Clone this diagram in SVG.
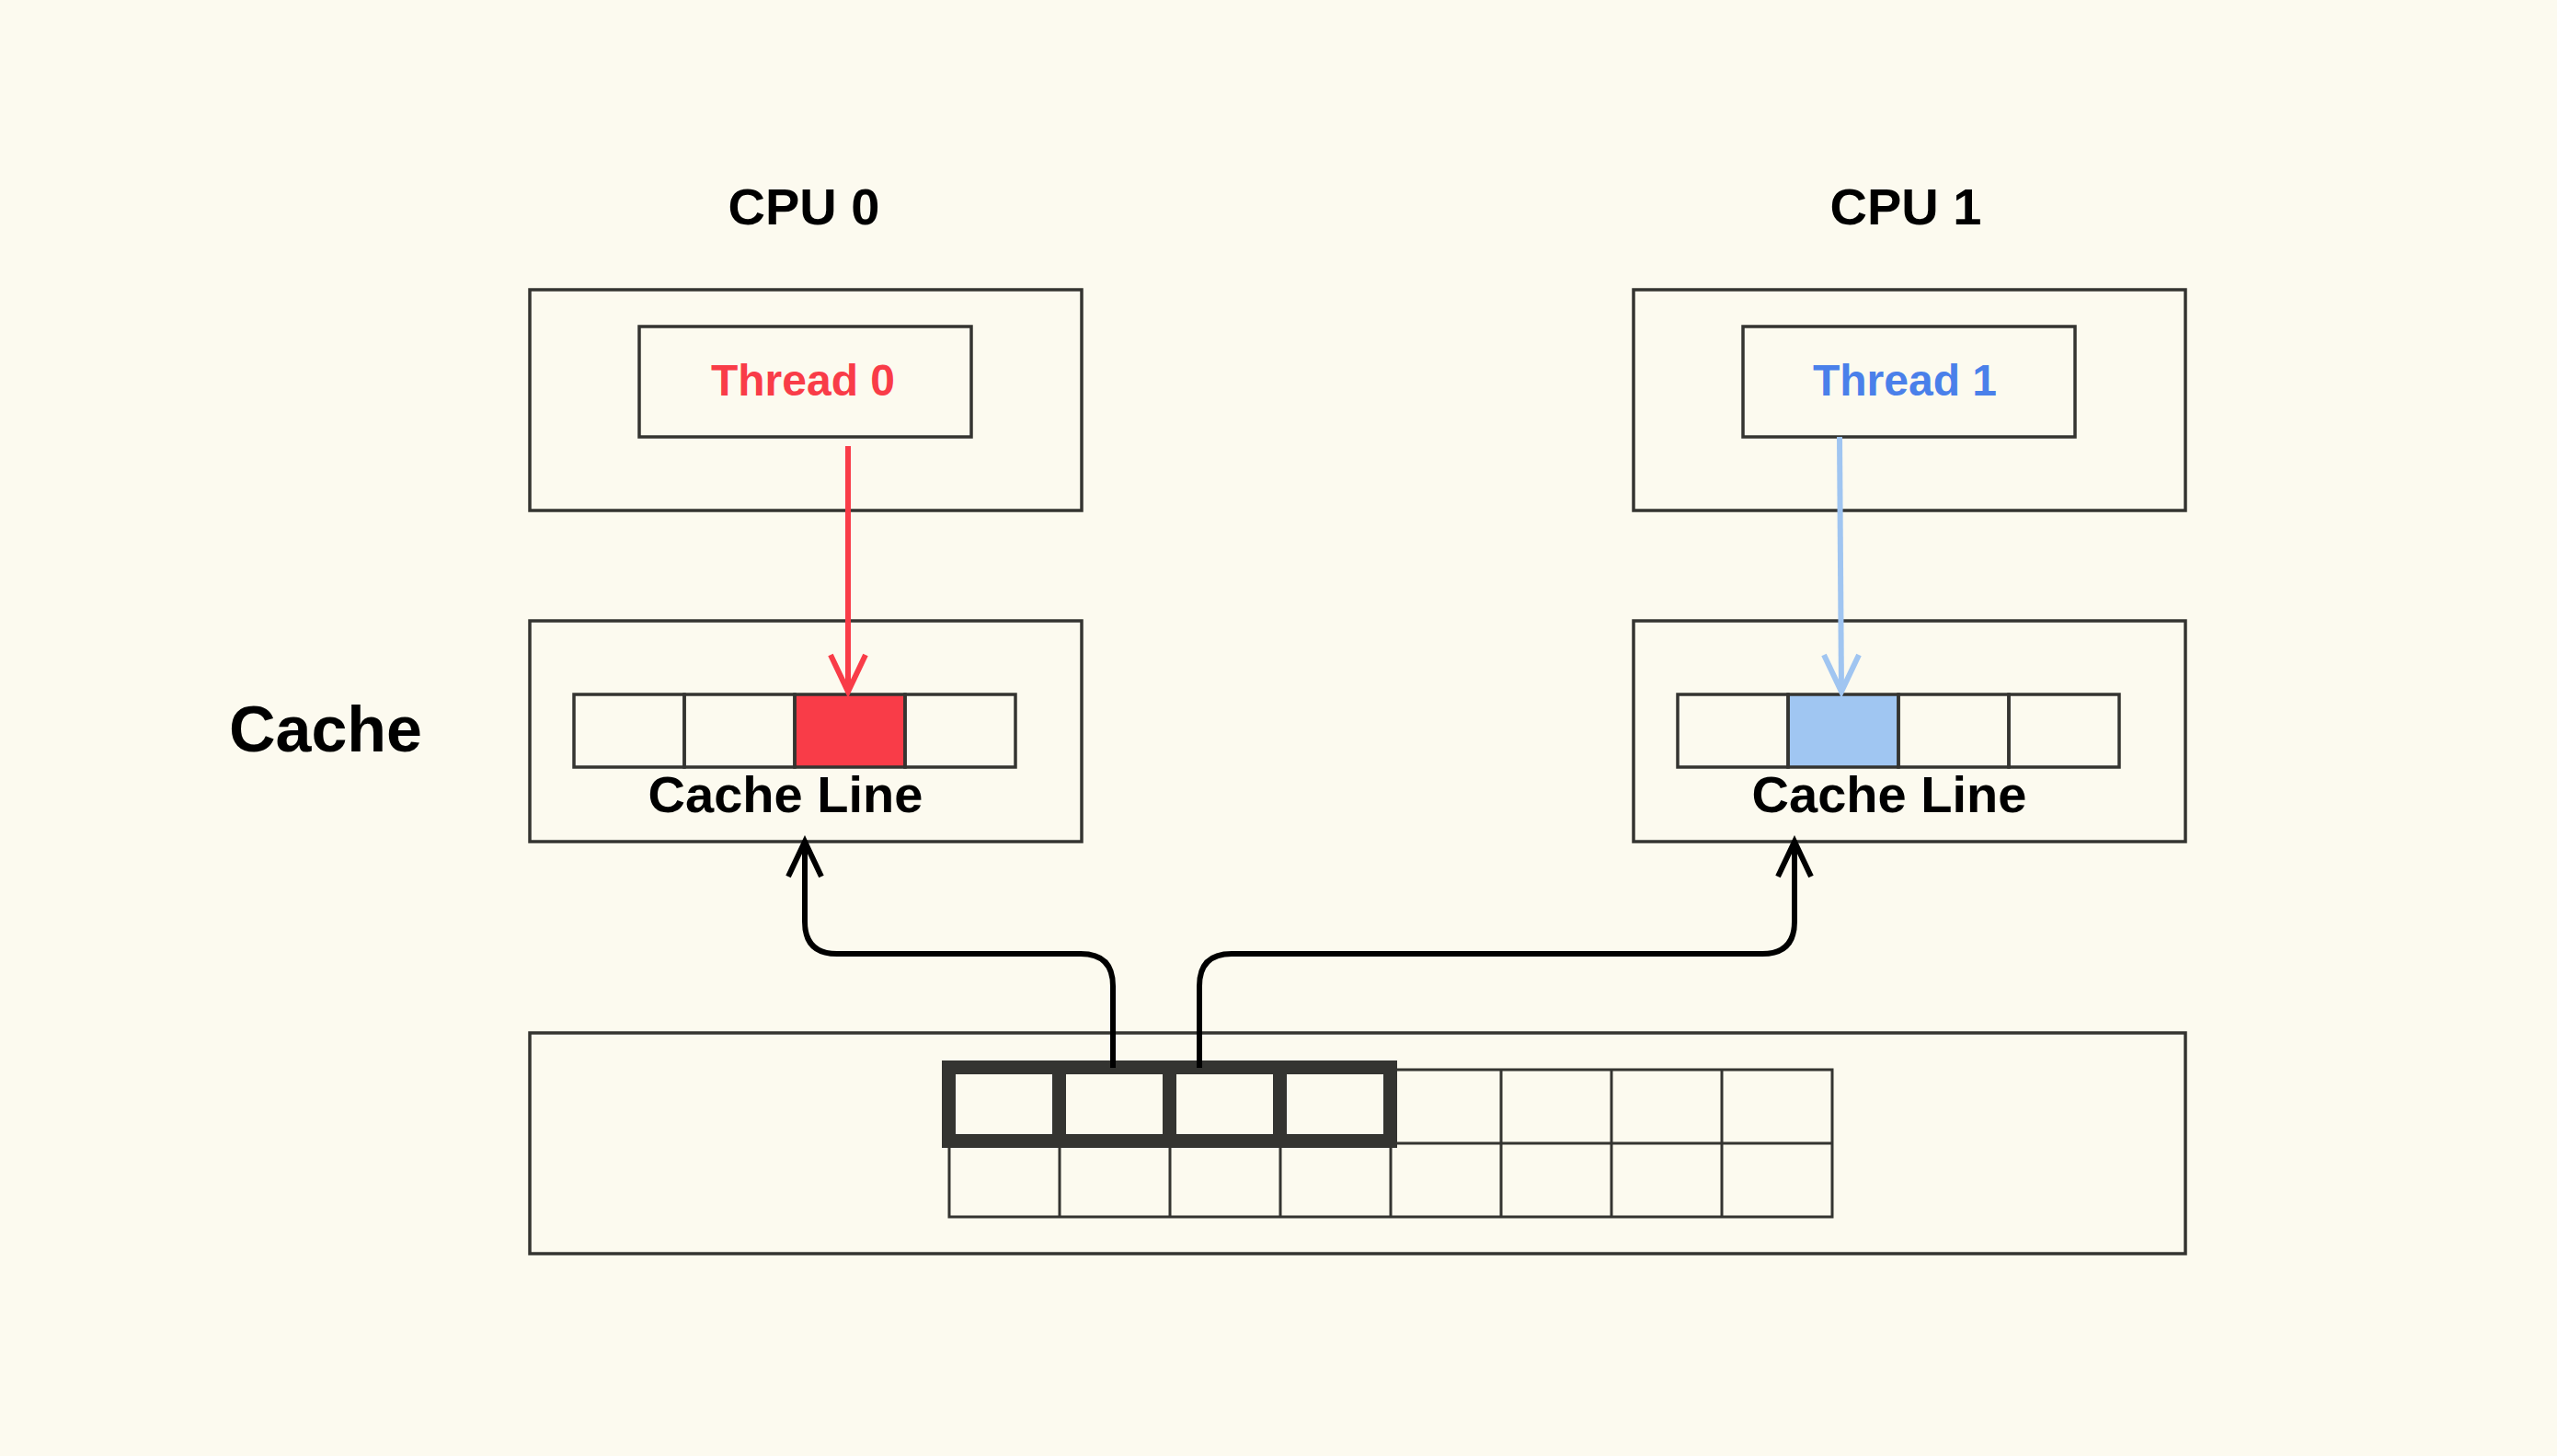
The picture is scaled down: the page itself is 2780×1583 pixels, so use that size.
<svg xmlns="http://www.w3.org/2000/svg" width="2780" height="1583" viewBox="0 0 2780 1583">
<style>
.box{fill:none;stroke:#343431;stroke-width:3.5}
.cell{fill:none;stroke:#343431;stroke-width:3.5}
.grid{fill:none;stroke:#343431;stroke-width:3}
.t{font-family:"Liberation Sans",Arial,sans-serif;font-weight:bold;text-anchor:middle}
.conn{fill:none;stroke:#000;stroke-width:6;stroke-linecap:butt;stroke-linejoin:round}
.head{fill:none;stroke-width:6;stroke-linecap:butt;stroke-linejoin:miter}
</style>
<rect width="2780" height="1583" fill="#fcfaef"/>
<g id="cpu0">
<text class="t" x="874" y="244" font-size="56" fill="#000">CPU 0</text>
<rect class="box" x="576" y="315" width="600" height="240"/>
</g>
<g id="thread0">
<rect class="box" x="695" y="355" width="361" height="120"/>
<text class="t" x="873" y="430" font-size="48" fill="#f93c48">Thread 0</text>
</g>
<g id="cpu1">
<text class="t" x="2072" y="244" font-size="56" fill="#000">CPU 1</text>
<rect class="box" x="1776" y="315" width="600" height="240"/>
</g>
<g id="thread1">
<rect class="box" x="1895" y="355" width="361" height="120"/>
<text class="t" x="2071" y="430" font-size="48" fill="#4a80ea">Thread 1</text>
</g>
<g id="cache-label">
<text class="t" x="354" y="817" font-size="70" fill="#000">Cache</text>
</g>
<g id="cache0">
<rect class="box" x="576" y="675" width="600" height="240"/>
<rect x="864" y="755" width="120" height="79" fill="#f93c48"/>
<rect class="cell" x="624" y="755" width="120" height="79"/>
<rect class="cell" x="744" y="755" width="120" height="79"/>
<rect class="cell" x="864" y="755" width="120" height="79"/>
<rect class="cell" x="984" y="755" width="120" height="79"/>
<text class="t" x="854" y="883" font-size="56" fill="#000">Cache Line</text>
</g>
<g id="cache1">
<rect class="box" x="1776" y="675" width="600" height="240"/>
<rect x="1944" y="755" width="120" height="79" fill="#a0c6f2"/>
<rect class="cell" x="1824" y="755" width="120" height="79"/>
<rect class="cell" x="1944" y="755" width="120" height="79"/>
<rect class="cell" x="2064" y="755" width="120" height="79"/>
<rect class="cell" x="2184" y="755" width="120" height="79"/>
<text class="t" x="2054" y="883" font-size="56" fill="#000">Cache Line</text>
</g>
<g id="memory">
<rect class="box" x="576" y="1123" width="1800" height="240"/>
<rect class="grid" x="1032" y="1163" width="960" height="160"/>
<path class="grid" d="M1032 1243H1992M1152 1163V1323M1272 1163V1323M1392 1163V1323M1512 1163V1323M1632 1163V1323M1752 1163V1323M1872 1163V1323"/>
<rect x="1031.5" y="1160.5" width="480" height="80" fill="none" stroke="#343431" stroke-width="15"/>
<path d="M1151.5 1160.5V1240.5M1271.5 1160.5V1240.5M1391.5 1160.5V1240.5" fill="none" stroke="#343431" stroke-width="15"/>
</g>
<g id="connectors">
<path d="M922 485V750" fill="none" stroke="#f93c48" stroke-width="6"/>
<path class="head" d="M903 712L922 752L941 712" stroke="#f93c48"/>
<path d="M2000 475L2002 750" fill="none" stroke="#a0c5f1" stroke-width="6"/>
<path class="head" d="M1983 712L2002 752L2021 712" stroke="#a0c5f1"/>
<path class="conn" d="M1210 1161V1072Q1210 1037 1175 1037H910Q875 1037 875 1002V918"/>
<path class="head" d="M857 953L875 915L893 953" stroke="#000"/>
<path class="conn" d="M1304 1161V1072Q1304 1037 1339 1037H1916Q1951 1037 1951 1002V918"/>
<path class="head" d="M1933 953L1951 915L1969 953" stroke="#000"/>
</g>
</svg>
